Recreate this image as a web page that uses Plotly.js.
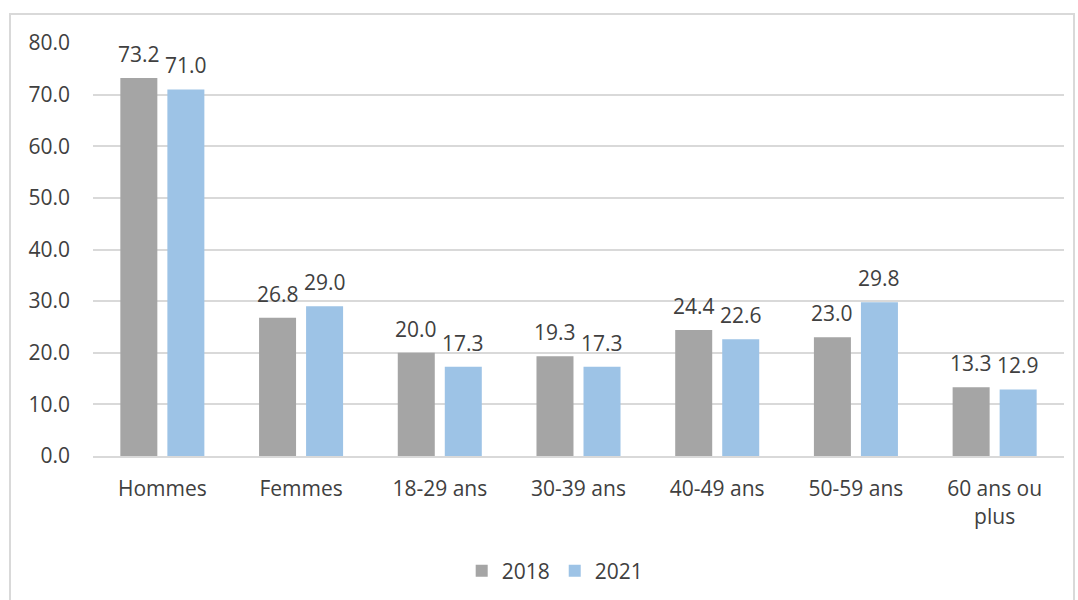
<!DOCTYPE html>
<html>
<head>
<meta charset="utf-8">
<script src="https://cdn.plot.ly/plotly-3.0.1.min.js"></script>
<style>
  html, body { margin: 0; padding: 0; background: #fff; }
  #frame { position: absolute; left: 9px; top: 13px; width: 1066px; height: 600px; border: 2px solid #d9d9d9; box-sizing: border-box; }
  #chart { position: absolute; left: 0; top: 0; width: 1078px; height: 600px; }
</style>
</head>
<body>
<div id="frame"></div>
<div id="chart"></div>
<script>
const categories = ["Hommes", "Femmes", "18-29 ans", "30-39 ans", "40-49 ans", "50-59 ans", "60 ans ou<br>plus"];
const values2018 = [73.2, 26.8, 20.0, 19.3, 24.4, 23.0, 13.3];
const values2021 = [71.0, 29.0, 17.3, 17.3, 22.6, 29.8, 12.9];
const yTicks = [0, 10, 20, 30, 40, 50, 60, 70, 80];

const fontFam = "'Open Sans', sans-serif";
const textCol = "#404040";
const fs = 21;

const traces = [
  {
    type: "bar", name: "2018", x: categories, y: values2018,
    marker: { color: "#a5a5a5" },
    hoverinfo: "skip"
  },
  {
    type: "bar", name: "2021", x: categories, y: values2021,
    marker: { color: "#9dc3e6" },
    hoverinfo: "skip"
  }
];

function labels(vals, xshift) {
  return categories.map((c, i) => ({
    x: c, y: vals[i], xref: "x", yref: "y",
    text: vals[i].toFixed(1), showarrow: false,
    xshift: xshift, yshift: 24, yanchor: "middle", xanchor: "center",
    font: { family: fontFam, size: fs, color: textCol }
  }));
}

const layout = {
  width: 1078, height: 600,
  margin: { l: 93, r: 14, t: 43, b: 144 },
  paper_bgcolor: "rgba(0,0,0,0)",
  plot_bgcolor: "rgba(0,0,0,0)",
  barmode: "group",
  bargap: 0.322,
  bargroupgap: 0.213,
  font: { family: fontFam, size: fs, color: textCol },
  xaxis: {
    type: "category", automargin: false,
    showgrid: false, ticks: "",
    tickfont: { family: fontFam, size: fs, color: textCol },
    showline: true, linecolor: "#d9d9d9", linewidth: 2,
    ticklabelstandoff: 13
  },
  yaxis: {
    range: [0, 80], automargin: false,
    tickvals: yTicks,
    tickformat: ".1f",
    showgrid: true, gridcolor: "#d9d9d9", gridwidth: 2,
    zeroline: false,
    ticks: "",
    ticklabelstandoff: 22,
    tickfont: { family: fontFam, size: fs, color: textCol }
  },
  annotations: labels(values2018, -23.5).concat(labels(values2021, 23.5)),
  showlegend: true,
  legend: {
    orientation: "h", xref: "paper", x: 0.476, xanchor: "center",
    yref: "container", y: 0.048, yanchor: "middle",
    font: { family: fontFam, size: fs, color: textCol },
    itemwidth: 30, traceorder: "normal"
  }
};

Plotly.newPlot("chart", traces, layout, { displayModeBar: false, staticPlot: true });
</script>
</body>
</html>
